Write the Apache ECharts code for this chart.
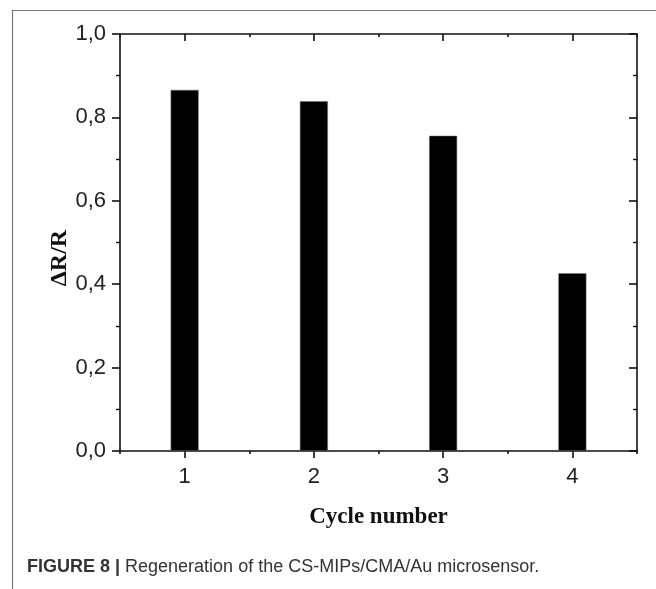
<!DOCTYPE html>
<html>
<head>
<meta charset="utf-8">
<script src="https://cdn.jsdelivr.net/npm/echarts@6/dist/echarts.min.js"></script>
<style>html,body{margin:0;padding:0;background:#fff;}#c{width:656px;height:589px;}</style>
</head>
<body>
<div id="c"></div>
<script>
const categories = ['1', '2', '3', '4'];
const values = [0.866, 0.839, 0.756, 0.426];
const yTicks = [0, 0.2, 0.4, 0.6, 0.8, 1.0];
const xTitle = 'Cycle number';
const yTitle = 'ΔR/R';
const captionBold = 'FIGURE 8 |';
const captionText = ' Regeneration of the CS-MIPs/CMA/Au microsensor.';

const chart = echarts.init(document.getElementById('c'), null, {renderer: 'canvas'});
const axisColor = '#111';
const lineStyle = {color: axisColor, width: 1.6};
const tickFont = {fontFamily: 'Liberation Sans, Arial, sans-serif', fontSize: 22, color: '#222'};

function catAxis(pos, major, showLine, showLabel) {
  return {
    type: 'category', data: categories, position: pos, boundaryGap: true,
    axisLine: {show: showLine, onZero: false, lineStyle: lineStyle},
    axisTick: {show: true, alignWithLabel: major, inside: pos === 'top', length: major ? 7 : 3, lineStyle: lineStyle},
    axisLabel: {show: showLabel, margin: 15, ...tickFont},
    splitLine: {show: false}
  };
}
const xAxes = [catAxis('bottom', true, true, true), catAxis('bottom', false, false, false),
               catAxis('top', true, true, false), catAxis('top', false, false, false)];
xAxes[0].name = xTitle;
xAxes[0].nameLocation = 'middle';
xAxes[0].nameGap = 55;
xAxes[0].nameTextStyle = {fontFamily: 'Liberation Serif, Times New Roman, serif', fontWeight: 'bold', fontSize: 23, color: '#111'};

function valAxis(pos, showLabel) {
  return {
    type: 'value', position: pos, min: yTicks[0], max: yTicks[yTicks.length - 1], interval: 0.2,
    axisLine: {show: true, onZero: false, lineStyle: lineStyle},
    axisTick: {show: true, inside: pos === 'right', length: 8, lineStyle: lineStyle},
    minorTick: {show: true, splitNumber: 2, length: 4, lineStyle: {color: axisColor, width: 1.4}},
    axisLabel: {show: showLabel, margin: 14, formatter: v => v.toFixed(1).replace('.', ','), ...tickFont},
    splitLine: {show: false}
  };
}

chart.setOption({
  animation: false,
  backgroundColor: '#fff',
  grid: {left: 120, right: 19, top: 34, bottom: 138},
  xAxis: xAxes.map((a, i) => ({...a, gridIndex: 0})),
  yAxis: [valAxis('left', true), valAxis('right', false)],
  series: [{
    type: 'bar', data: values, xAxisIndex: 0, yAxisIndex: 0, barWidth: 28,
    itemStyle: {color: '#000', borderColor: '#777', borderWidth: 0.5}
  }],
  graphic: [
    {type: 'line', shape: {x1: 12, y1: 10.5, x2: 656, y2: 10.5}, style: {stroke: '#777', lineWidth: 1.2}},
    {type: 'line', shape: {x1: 12.5, y1: 10, x2: 12.5, y2: 589}, style: {stroke: '#777', lineWidth: 1.2}},
    {type: 'text', x: 60, y: 258, rotation: Math.PI / 2, style: {
      text: yTitle, align: 'center', verticalAlign: 'middle',
      font: 'bold 24px "Liberation Serif", "Times New Roman", serif', fill: '#111'}},
    {type: 'text', x: 27, y: 567, style: {
      text: '{b|' + captionBold + '}{n|' + captionText + '}', verticalAlign: 'middle',
      rich: {
        b: {fontFamily: 'Liberation Sans, Arial, sans-serif', fontWeight: 'bold', fontSize: 18, fill: '#333'},
        n: {fontFamily: 'Liberation Sans, Arial, sans-serif', fontSize: 18, fill: '#333'}
      }}}
  ]
});
</script>
</body>
</html>
